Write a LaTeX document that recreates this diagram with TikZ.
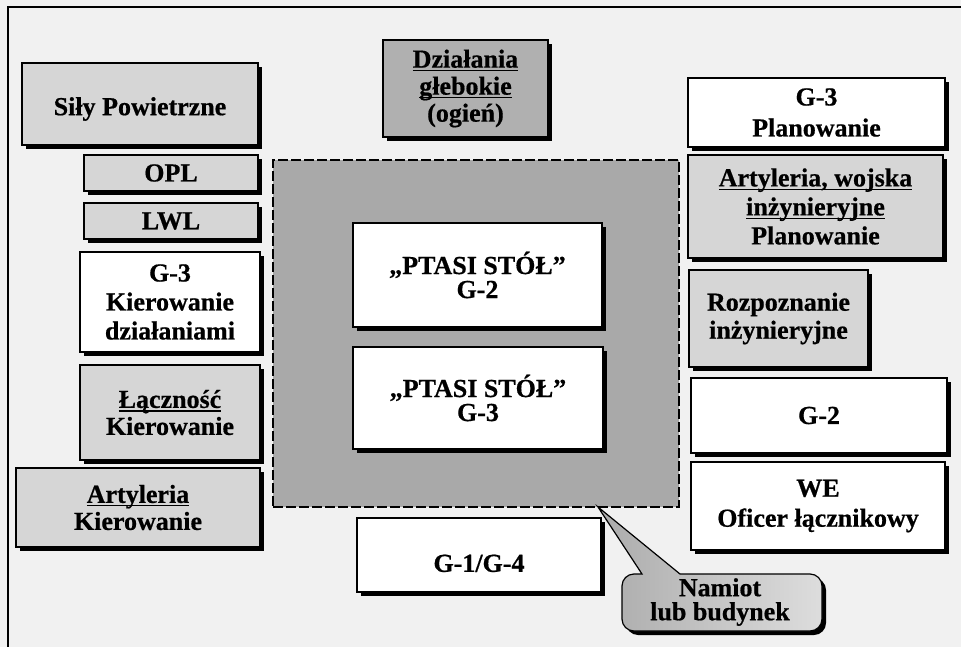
\documentclass[tikz,border=0pt]{standalone}
\usepackage{fontspec}
\setmainfont{Liberation Serif}[BoldFeatures={FakeBold=0.6}]
\usetikzlibrary{shadows}

\definecolor{paper}{HTML}{F1F1F1}
\definecolor{panelgray}{HTML}{D6D6D6}
\definecolor{zonegray}{HTML}{A9A9A9}
\definecolor{deepgray}{HTML}{B0B0B0}
\definecolor{tentleft}{HTML}{ABABAB}
\definecolor{tentright}{HTML}{DDDDDD}

% underline at a fixed depth, crossing the descenders
\newsavebox\ulbox
\newcommand\uln[1]{\sbox\ulbox{#1}\rlap{\rule[-3.6pt]{\wd\ulbox}{1.4pt}}\usebox\ulbox}

\begin{document}
\begin{tikzpicture}[x=1pt,y=-1pt,
  labelfont/.style={font=\fontsize{26}{#1}\selectfont\bfseries},
  labelfont/.default=28,
  % taller first line: pushes the text block lower inside its box
  sink/.style={execute at begin node={\rule{0pt}{#1}}},
  unit/.style={draw=black, line width=1.2pt, inner sep=0pt, align=center, labelfont,
    drop shadow={shadow xshift=4pt, shadow yshift=-4pt, fill=black, opacity=1}},
  whitebox/.style={unit, fill=white},
  graybox/.style={unit, fill=panelgray},
  deepbox/.style={unit, fill=deepgray},
  zonebox/.style={draw=black, fill=zonegray, line width=2.2pt, dash pattern=on 10pt off 3pt, inner sep=0pt},
  tentline/.style={draw=black, line width=1.2pt},
]
\useasboundingbox (0,0) rectangle (961,647);
\fill[paper] (0,0) rectangle (961,647);

% page frame
\draw[line width=1.8pt] (8,647) -- (8,7) -- (961,7);

% left column
\node[graybox, sink=28pt, minimum width=236, minimum height=82] (sp) at (140,104) {Siły Powietrzne};
\node[graybox, minimum width=174, minimum height=36] (opl) at (171,173) {OPL};
\node[graybox, minimum width=174, minimum height=36] (lwl) at (171,221) {LWL};
\node[whitebox, labelfont=29, minimum width=180, minimum height=100] (g3k) at (170,302) {G-3\\Kierowanie\\działaniami};
\node[graybox, labelfont=27, minimum width=180, minimum height=95] (lacz) at (170,412.5) {\uln{Łączność}\\Kierowanie};
\node[graybox, labelfont=27, minimum width=244, minimum height=79] (artk) at (138,507.5) {\uln{Artyleria}\\Kierowanie};

% centre
\node[deepbox, labelfont=27, sink=32pt, minimum width=165, minimum height=97] (deep) at (465.5,88.5) {\uln{Działania}\\\uln{głebokie}\\(ogień)};
\node[zonebox, minimum width=406, minimum height=347] (zone) at (476,333.5) {};
\node[whitebox, labelfont=24, minimum width=249, minimum height=104] (pt2) at (477.5,275) {„PTASI STÓŁ”\\G-2};
\node[whitebox, labelfont=24, minimum width=250, minimum height=102] (pt3) at (478,398) {„PTASI STÓŁ”\\G-3};
\node[whitebox, sink=34pt, minimum width=244, minimum height=74] (g14) at (479,555) {G-1/G-4};

% right column
\node[whitebox, labelfont=31, minimum width=257, minimum height=69] (g3p) at (816.5,112.5) {G-3\\Planowanie};
\node[graybox, labelfont=29, minimum width=255, minimum height=103] (artp) at (815.5,206.5) {\uln{Artyleria, wojska}\\\uln{inżynieryjne}\\Planowanie};
\node[graybox, minimum width=179, minimum height=97] (rozp) at (778.5,318.5) {Rozpoznanie\\inżynieryjne};
\node[whitebox, minimum width=256, minimum height=75] (g2) at (819,415.5) {G-2};
\node[whitebox, labelfont=30, minimum width=254, minimum height=88] (we) at (818,506) {WE\\Oficer łącznikowy};

% speech bubble pointing at the command post area
\coordinate (tip) at (598,507);
\fill[black, rounded corners=12pt] (626,578) rectangle (826,635);
\path[tentline, left color=tentleft, right color=tentright]
  (634,574) -- (642,574) -- (tip) -- (680,574) -- (810,574)
  arc[start angle=270, end angle=360, radius=12] -- (822,619)
  arc[start angle=0, end angle=90, radius=12] -- (634,631)
  arc[start angle=90, end angle=180, radius=12] -- (622,586)
  arc[start angle=180, end angle=270, radius=12] -- cycle;
\node[labelfont=24, align=center, inner sep=0pt] (tent) at (720,602) {Namiot\\lub budynek};
\end{tikzpicture}
\end{document}
